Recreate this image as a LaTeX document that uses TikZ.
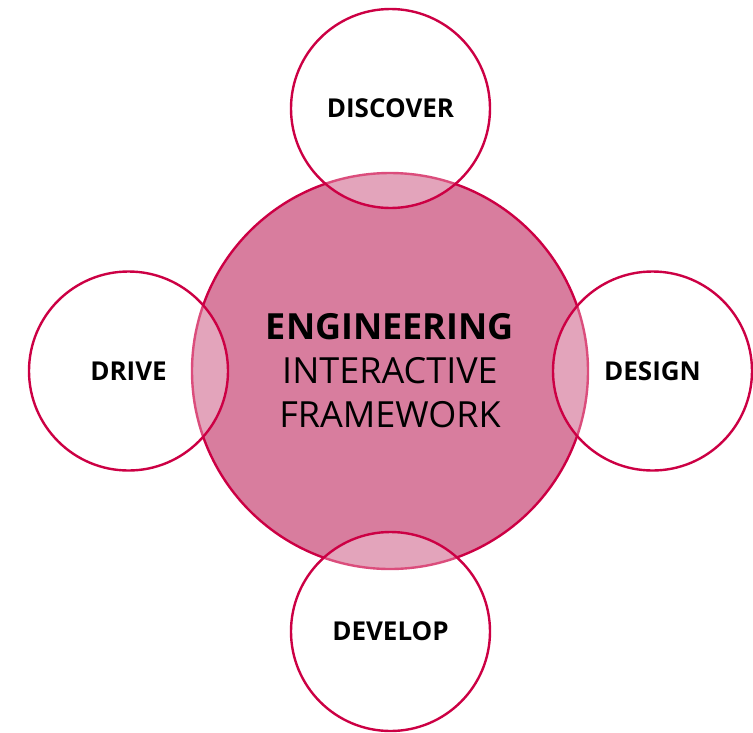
\documentclass[tikz,border=0pt]{standalone}
\usepackage{fontspec}
\setmainfont{Open Sans}
\usepackage{tikz}
\definecolor{crimson}{HTML}{CC0044}
\definecolor{rose}{HTML}{D87D9E}

\begin{document}
\begin{tikzpicture}[x=1pt,y=-1pt,
    hub/.style={circle,draw=crimson,fill=rose,line width=2.4pt,minimum size=396pt,inner sep=0pt,
      align=center,font=\fontsize{36}{44}\selectfont},
    spoke/.style={circle,draw=crimson,line width=2.4pt,fill=white,fill opacity=0.3,text opacity=1,
      minimum size=199pt,inner sep=0pt,font=\bfseries\fontsize{26}{30}\selectfont}]
    \useasboundingbox (0,0) rectangle (753,732);

    % the framework in the middle
    \node[hub] (core) at (390,371) {\textbf{ENGINEERING}\\INTERACTIVE\\FRAMEWORK};

    % the four stages round it
    \node[spoke] (discover) at (390.5,108.5) {DISCOVER};
    \node[spoke] (drive) at (128.5,371) {DRIVE};
    \node[spoke] (design) at (652.5,371) {DESIGN};
    \node[spoke] (develop) at (390.5,631.5) {DEVELOP};
\end{tikzpicture}
\end{document}
